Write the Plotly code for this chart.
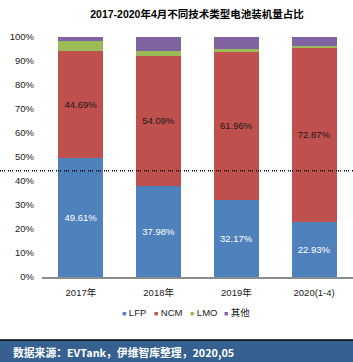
import plotly.graph_objects as go

categories = ["2017年", "2018年", "2019年", "2020(1-4)"]
lfp = [49.61, 37.98, 32.17, 22.93]
ncm = [44.69, 54.09, 61.96, 72.87]
lmo = [4.1, 2.05, 0.7, 0.3]
other = [1.6, 5.88, 5.17, 3.9]
series_names = ["LFP", "NCM", "LMO", "其他"]
series_colors = ["#4F81BD", "#C0504D", "#9BBB59", "#8064A2"]
ref_line = 44.3
title_text = "2017-2020年4月不同技术类型电池装机量占比"
source_text = "数据来源：EVTank，伊维智库整理，2020,05"
y_ticks = list(range(0, 101, 10))

W, H = 353, 362
L, R, T, B = 42, 0, 37, 85
PW, PH = W - L - R, H - T - B


def px_x(p):
    return (p - L) / PW


def px_y(p):
    return (H - B - p) / PH


FONT = "Liberation Sans, Arial, Noto Sans CJK SC, sans-serif"

fig = go.Figure()
values = [lfp, ncm, lmo, other]
text_colors = ["white", "#1a1a1a", None, None]
for i, (name, vals, col) in enumerate(zip(series_names, values, series_colors)):
    kw = {}
    if text_colors[i]:
        kw = dict(
            text=[f"{v:.2f}%" for v in vals],
            textposition="inside",
            insidetextanchor="middle",
            textangle=0,
            textfont=dict(color=text_colors[i], size=9.5, family=FONT),
        )
    fig.add_trace(go.Bar(x=categories, y=vals, name=name, marker=dict(color=col, line=dict(width=0)),
                         showlegend=False, **kw))

fig.update_layout(
    barmode="stack",
    bargap=0.423,
    width=W, height=H,
    margin=dict(l=L, r=R, t=T, b=B, pad=0),
    paper_bgcolor="white", plot_bgcolor="white",
    font=dict(family=FONT, size=9, color="#1a1a1a"),
    title=dict(text="<b>" + title_text + "</b>", x=197 / W, xanchor="center",
               y=1 - 14 / H, yanchor="middle", yref="container",
               font=dict(size=10.5, color="black", family=FONT)),
    yaxis=dict(range=[0, 100], tickvals=y_ticks, ticktext=[f"{v}%" for v in y_ticks],
               showgrid=False, zeroline=False, showline=False, ticks="", ticklabelstandoff=7,
               tickfont=dict(size=9.5, color="#1a1a1a"), fixedrange=True),
    xaxis=dict(showgrid=False, zeroline=False, showline=True, linecolor="#8c8c8c", linewidth=1.5,
               ticks="", ticklabelstandoff=6, tickfont=dict(size=9.5, color="#1a1a1a")),
    showlegend=False,
)

# reference dotted line
fig.add_shape(type="line", xref="paper", yref="y", x0=px_x(0), x1=px_x(353), y0=ref_line, y1=ref_line,
              line=dict(color="black", width=1.5, dash="1px,1px,1px,1px,1px,3px"), layer="above")

# legend built from series names/colors
legend_x = [120, 152, 188, 222]
for nm, col, lx in zip(series_names, series_colors, legend_x):
    fig.add_annotation(xref="paper", yref="paper", x=px_x(lx), y=px_y(312), xanchor="left", yanchor="middle",
                       showarrow=False,
                       text=f"<span style='color:{col};font-size:7px'>■</span> {nm}",
                       font=dict(size=9.5, color="#1a1a1a", family=FONT))

# footer banner
fig.add_shape(type="rect", xref="paper", yref="paper", x0=px_x(0), x1=px_x(353), y0=px_y(362), y1=px_y(340),
              fillcolor="#35608F", line=dict(width=0), layer="above")
fig.add_shape(type="line", xref="paper", yref="paper", x0=px_x(0), x1=px_x(353), y0=px_y(340), y1=px_y(340),
              line=dict(color="black", width=1.5), layer="above")
fig.add_annotation(xref="paper", yref="paper", x=px_x(11), y=px_y(352), xanchor="left", yanchor="middle",
                   showarrow=False, text="<b>" + source_text + "</b>",
                   font=dict(size=10.8, color="white", family="Noto Sans CJK SC, sans-serif"))

fig.write_html("out.html")
